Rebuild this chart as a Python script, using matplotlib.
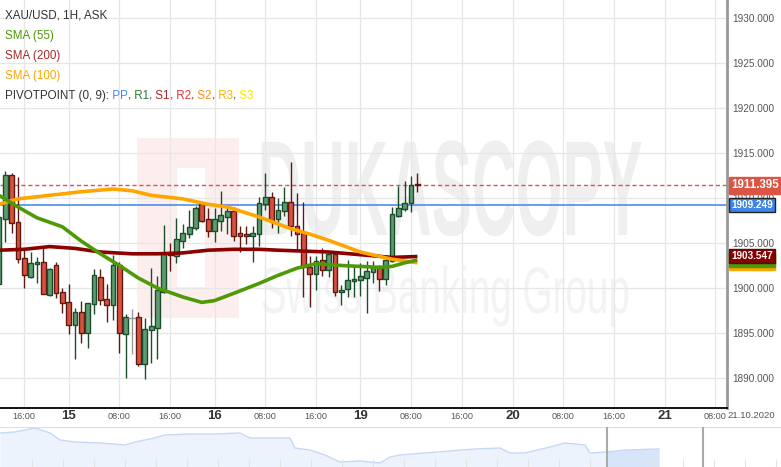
import matplotlib
matplotlib.use("Agg")
import matplotlib.pyplot as plt
from matplotlib.patches import Rectangle
from matplotlib.transforms import Affine2D, blended_transform_factory
from matplotlib.patheffects import AbstractPathEffect

plt.rcParams['font.family'] = ['Liberation Sans', 'DejaVu Sans']

# hourly candles, XAU/USD (index = candle number)
opens = [1900.4, 1907.7, 1912.6, 1907.3, 1903.3, 1901.2, 1902.7, 1902.9, 1899.2, 1902.6,
         1899.6, 1898.4, 1895.9, 1897.3, 1895.0, 1898.2, 1901.2, 1898.8, 1898.1, 1902.6,
         1894.9, 1896.7, 1896.8, 1891.6, 1895.3, 1895.6, 1899.6, 1903.9, 1903.6, 1905.2,
         1906.0, 1906.7, 1909.3, 1907.7, 1906.3, 1907.4, 1907.9, 1908.6, 1906.1, 1906.0,
         1905.8, 1906.0, 1909.3, 1910.1, 1907.7, 1908.6, 1909.6, 1906.9, 1906.1, 1902.3,
         1901.6, 1903.1, 1902.0, 1903.8, 1899.6, 1899.9, 1900.8, 1900.9, 1901.1, 1901.8,
         1902.3, 1901.0, 1903.0, 1908.0, 1908.8, 1909.4, 1911.6]
highs = [1908.4, 1913.0, 1912.8, 1912.3, 1904.4, 1904.0, 1903.4, 1904.6, 1902.2, 1902.9,
         1900.0, 1900.4, 1897.8, 1898.6, 1898.3, 1902.1, 1902.1, 1900.4, 1903.7, 1902.9,
         1897.1, 1897.7, 1897.3, 1896.7, 1902.2, 1901.3, 1907.0, 1905.0, 1907.8, 1907.1,
         1908.7, 1909.1, 1909.4, 1908.9, 1908.9, 1910.8, 1909.1, 1909.0, 1906.9, 1906.9,
         1906.9, 1910.1, 1912.8, 1910.7, 1910.0, 1911.2, 1914.0, 1910.6, 1909.6, 1903.6,
         1903.6, 1904.4, 1903.9, 1903.9, 1900.3, 1903.1, 1902.4, 1902.8, 1903.0, 1903.0,
         1902.6, 1903.7, 1909.0, 1911.3, 1911.9, 1912.4, 1912.8]
lows = [1899.8, 1905.1, 1906.1, 1902.8, 1900.0, 1901.1, 1900.6, 1899.3, 1899.1, 1898.9,
        1897.2, 1894.9, 1892.1, 1893.9, 1893.3, 1897.1, 1898.1, 1896.2, 1896.4, 1892.8,
        1890.0, 1892.7, 1891.3, 1889.9, 1891.7, 1892.1, 1899.4, 1901.9, 1902.8, 1904.4,
        1905.6, 1906.4, 1907.3, 1905.7, 1905.1, 1906.3, 1906.0, 1905.2, 1904.0, 1904.9,
        1902.9, 1904.7, 1908.7, 1906.7, 1906.1, 1908.0, 1905.8, 1904.2, 1899.0, 1897.9,
        1899.8, 1901.3, 1901.2, 1899.1, 1898.1, 1899.0, 1899.0, 1899.1, 1897.2, 1900.6,
        1899.7, 1900.3, 1902.9, 1907.9, 1908.6, 1908.4, 1910.7]
closes = [1907.9, 1912.6, 1907.2, 1903.2, 1901.4, 1902.8, 1902.9, 1899.3, 1902.1, 1899.4,
          1898.3, 1895.9, 1897.3, 1895.0, 1898.3, 1901.4, 1898.7, 1898.1, 1902.6, 1895.0,
          1896.8, 1896.7, 1891.6, 1895.4, 1895.8, 1899.8, 1903.8, 1903.7, 1905.4, 1906.1,
          1906.8, 1908.9, 1907.4, 1906.3, 1907.7, 1908.1, 1908.6, 1905.8, 1905.8, 1905.8,
          1906.1, 1909.4, 1910.1, 1907.4, 1908.7, 1909.6, 1906.9, 1906.0, 1902.3, 1901.6,
          1903.0, 1902.0, 1903.8, 1899.6, 1899.8, 1900.9, 1901.0, 1901.3, 1901.9, 1902.3,
          1901.0, 1903.1, 1908.2, 1908.9, 1909.4, 1911.4, 1911.395]

# moving averages
sma55_x = [0, 3, 6, 10, 13, 16, 19, 22, 25, 29, 32, 34, 37, 41, 44, 47, 50, 54, 57, 60, 62, 64, 66]
sma55_y = [1910.3, 1909.0, 1907.8, 1906.8, 1905.2, 1903.8, 1902.5, 1901.1, 1900.0, 1899.0, 1898.4,
           1898.6, 1899.4, 1900.5, 1901.4, 1902.2, 1902.7, 1902.5, 1902.4, 1902.3, 1902.4, 1902.8, 1903.1]
sma200_x = [0, 4, 8, 12, 16, 21, 25, 29, 33, 37, 41, 44, 48, 52, 57, 62, 66]
sma200_y = [1904.2, 1904.3, 1904.6, 1904.4, 1904.0, 1903.8, 1903.8, 1903.9, 1904.2, 1904.3,
            1904.3, 1904.2, 1904.1, 1904.0, 1903.7, 1903.4, 1903.5]
sma100_x = [0, 3, 8, 13, 18, 21, 24, 29, 33, 36, 41, 46, 49, 52, 57, 62, 66]
sma100_y = [1909.3, 1909.9, 1910.3, 1910.7, 1911.0, 1910.8, 1910.3, 1909.9, 1909.3, 1909.0,
            1907.9, 1906.6, 1906.0, 1905.3, 1904.0, 1903.2, 1902.8]

last_price = 1911.395
pivot_pp = 1909.249
sma200_last = 1903.547

tick_pos = [4, 11, 19, 27, 34, 42, 50, 57, 65, 73, 81, 89, 97, 105, 113]
tick_lab = ['16:00', '15', '08:00', '16:00', '16', '08:00', '16:00', '19', '08:00', '16:00',
            '20', '08:00', '16:00', '21', '08:00']
day_labels = ['15', '16', '19', '20', '21']
y_ticks = [1890, 1895, 1900, 1905, 1910, 1915, 1920, 1925, 1930]

# navigator (overview) series
nav_t = [0, 15, 35, 50, 60, 75, 100, 125, 135, 150, 165, 190, 215, 240, 250, 275, 290, 295, 310,
         325, 340, 360, 380, 390, 400, 425, 450, 475, 500, 510, 525, 550, 565, 585, 590, 607, 625, 659]
nav_level = [34, 35, 39, 34, 27, 25, 24, 22, 25, 28, 32, 33, 33, 34, 29, 29, 29, 19, 17,
             12, 5, 6, 4, 10, 12, 14, 16, 18, 19, 14, 14, 20, 24, 22, 14, 15, 17, 18]
nav_sel = (607, 659)


class Stretch(AbstractPathEffect):
    # rescales the watermark glyphs about an anchor point (display pixels)
    def __init__(self, sx, sy, cx, cy):
        super().__init__()
        self.sx, self.sy, self.cx, self.cy = sx, sy, cx, cy

    def draw_path(self, renderer, gc, tpath, affine, rgbFace=None):
        t = affine + Affine2D().translate(-self.cx, -self.cy).scale(self.sx, self.sy) \
            .translate(self.cx, self.cy)
        renderer.draw_path(gc, tpath, t, rgbFace)


W, H = 781, 467
fig = plt.figure(figsize=(W / 100, H / 100), dpi=100)
fig.patch.set_facecolor('white')

ax = fig.add_axes([0, 59 / H, 727 / W, 408 / H])
ax.set_xlim(0.164, 114.83)
ax.set_ylim(1886.667, 1932)
ax.set_axisbelow(True)
ax.grid(True, color='#e6e6e6', lw=0.9)
for s in ['left', 'top']:
    ax.spines[s].set_visible(False)
ax.spines['bottom'].set_color('#111111')
ax.spines['bottom'].set_linewidth(1.4)
ax.spines['right'].set_color('#999999')
ax.spines['right'].set_linewidth(2)

# watermark
ax.add_patch(Rectangle((137, H - 318), 102, 180, transform=None, facecolor='#fdeeee',
                       edgecolor='none', zorder=0.1))
ax.add_patch(Rectangle((177, H - 287), 28, 119, transform=None, facecolor='white',
                       edgecolor='none', zorder=0.15))
ax.text(450 / W, (H - 235) / H, 'DUKASCOPY', transform=fig.transFigure, ha='center',
        va='baseline', fontsize=40, fontweight='bold', color='#efefef', zorder=0.2,
        path_effects=[Stretch(1.085, 2.44, 450, H - 235)])
ax.text(445 / W, (H - 313) / H, 'Swiss Banking Group', transform=fig.transFigure,
        ha='center', va='baseline', fontsize=20, color='#f3f3f3', zorder=0.2,
        path_effects=[Stretch(1.39, 2.36, 445, H - 313)])

# reference lines
ax.axhline(last_price, color='#d9534f', lw=1, ls=(0, (3, 2)), zorder=1.8)
ax.axhline(pivot_pp, color='#3d85e8', lw=1.1, zorder=1.8)

# candles
for i in range(len(opens)):
    o, h, l, c = opens[i], highs[i], lows[i], closes[i]
    if c > o:
        fill, edge = '#5c9c6e', '#1b4d2b'
    elif c < o:
        fill, edge = '#d9503d', '#5c1a12'
    else:
        fill, edge = '#aaaaaa', '#999999'
    ax.vlines(i, l, h, color=edge, lw=1, zorder=2)
    if c == o:
        ax.plot([i], [o], marker='_', ms=6, color=edge, zorder=2.1)
    else:
        ax.bar(i, c - o, bottom=o, width=0.75, color=fill, edgecolor=edge, lw=1, zorder=2.1)

ax.plot(sma200_x, sma200_y, color='#8b0000', lw=2.6, zorder=3, solid_capstyle='butt')
ax.plot(sma100_x, sma100_y, color='#ffa500', lw=2.6, zorder=3, solid_capstyle='butt')
ax.plot(sma55_x, sma55_y, color='#4e9a06', lw=2.6, zorder=3.1, solid_capstyle='butt')

# axes ticks
ax.set_xticks(tick_pos)
ax.set_xticklabels(tick_lab)
ax.tick_params(axis='x', length=0, pad=5.8)
for lab in ax.get_xticklabels():
    lab.set_va('center')
    if lab.get_text() in day_labels:
        lab.set_fontsize(9.5)
        lab.set_fontweight('bold')
        lab.set_color('#333333')
    else:
        lab.set_fontsize(6.6)
        lab.set_color('#555555')
ax.yaxis.tick_right()
ax.set_yticks(y_ticks)
ax.set_yticklabels(['%.3f' % v for v in y_ticks])
ax.tick_params(axis='y', length=0, pad=3.8, labelsize=7.2, labelcolor='#555555')

fig.text(751 / W, (H - 416) / H, '21.10.2020', ha='center', va='center', fontsize=6.8,
         color='#555555')

# price tags on the right axis
tr = blended_transform_factory(ax.transAxes, ax.transData)
tags = [
    (sma100_y[-1], '#ffa500', '#ffa500', 7.2),
    (sma55_y[-1], '#4e9a06', '#4e9a06', 7.2),
    (sma200_last, '#8b0000', '#222222', 7.2),
    (pivot_pp, '#3d85e8', '#222222', 7.2),
    (last_price, '#dc5444', '#dc5444', 8.3),
]
for k, (v, fc, ec, fs) in enumerate(tags):
    ax.text(1.0 + 4 / 727, v, '%.3f' % v, transform=tr, ha='left', va='center', fontsize=fs,
            fontweight='bold', color='white', clip_on=False, zorder=5 + k,
            bbox=dict(boxstyle='square,pad=0.2', facecolor=fc, edgecolor=ec, lw=1))

# legend texts
fig.text(5 / W, 1 - 15 / H, 'XAU/USD, 1H, ASK', fontsize=8.4, color='#333333', va='center')
fig.text(5 / W, 1 - 36 / H, 'SMA (55)', fontsize=8.4, color='#4e9a06', va='center')
fig.text(5 / W, 1 - 56 / H, 'SMA (200)', fontsize=8.4, color='#a52a2a', va='center')
fig.text(5 / W, 1 - 76 / H, 'SMA (100)', fontsize=8.4, color='#ffa500', va='center')
parts = [('PIVOTPOINT (0, 9):', '#333333'), (' PP', '#4a86e8'), (',', '#333333'),
         (' R1', '#2e7d32'), (',', '#333333'), (' S1', '#b22222'), (',', '#333333'),
         (' R2', '#ee3333'), (',', '#333333'), (' S2', '#ff8c1a'), (',', '#333333'),
         (' R3', '#ffb300'), (',', '#333333'), (' S3', '#ffe000')]
anchor = fig.text(5 / W, 1 - 96 / H, parts[0][0], fontsize=8.4, color=parts[0][1], va='center')
for s, col in parts[1:]:
    anchor = ax.annotate(s, xy=(1, 0), xycoords=anchor, xytext=(0, 0), textcoords='offset points',
                         va='bottom', ha='left', fontsize=8.4, color=col, annotation_clip=False)

# navigator
nav = fig.add_axes([0, 0, 1, 40 / H])
nav.set_xlim(0, W)
nav.set_ylim(0, 40)
nav.axis('off')
nav.fill_between(nav_t, 0, nav_level, color='#edf3fd', lw=0)
nav.plot(nav_t, nav_level, color='#c6d8f6', lw=1)
sel_t = [t for t in nav_t if nav_sel[0] <= t <= nav_sel[1]]
sel_v = [nav_level[nav_t.index(t)] for t in sel_t]
nav.fill_between(sel_t, 0, sel_v, color='#d7e5fb', lw=0)
nav.axhline(40, color='#dddddd', lw=1.5)
for t in range(32, W, 31):
    nav.vlines(t, 0, 8, color='#e3e3e3', lw=0.8)
nav.vlines([nav_sel[0], 703], 0, 40, color='#aaaaaa', lw=1.5)

fig.savefig('out.png', dpi=100, facecolor='white')
